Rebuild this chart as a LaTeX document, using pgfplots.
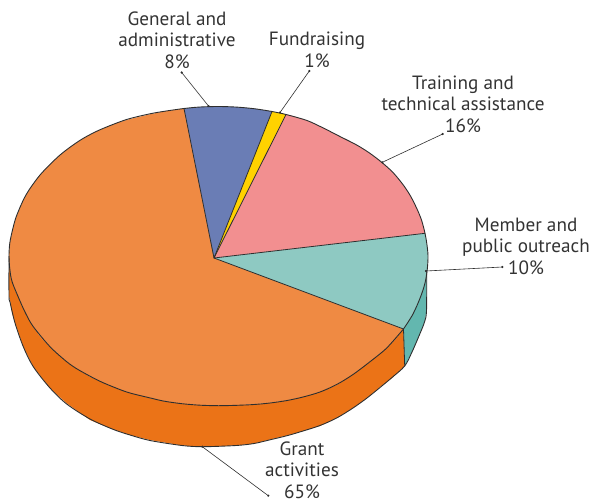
\documentclass[border=0pt]{standalone}
\usepackage{pgfplots}
\pgfplotsset{compat=1.18}
\usepackage{fontspec}
\setmainfont{PT Sans}
\definecolor{otop}{HTML}{EF8A43}
\definecolor{oside}{HTML}{EB7317}
\definecolor{blu}{HTML}{6A7DB5}
\definecolor{yel}{HTML}{FFD200}
\definecolor{pnk}{HTML}{F28F90}
\definecolor{tea}{HTML}{8EC9C2}
\definecolor{tside}{HTML}{63B7AF}
\definecolor{ink}{HTML}{2E2E2E}
\definecolor{txt}{HTML}{333333}
\tikzset{lbl/.style={font=\fontsize{19.2}{21.5}\selectfont,text=txt,align=center,inner sep=0pt},
  leader/.style={line width=0.6pt,mark=*,mark size=0.8pt,mark options={fill=ink,draw=ink}},
  rim/.style={line width=0.9pt,smooth,tension=0.5}}
\begin{document}
\begin{tikzpicture}
\path[use as bounding box] (0,0) rectangle (593pt,503pt);
\begin{axis}[
  at={(0,0)},anchor=south west,
  width=593pt,height=503pt,scale only axis,
  xmin=0,xmax=593,ymin=0,ymax=503,y dir=reverse,
  axis lines=none,clip=false,
  every axis plot/.append style={line width=0.8pt,draw=ink,mark=none,line join=round},
]
% side band: orange
\addplot[fill=oside,draw=none] coordinates {(9,256)(9,296)(10,300)(12,313)(15,323)(23.3,346.7)(33.3,366.7)(50,388.3)(66.7,403.3)(90,420)(113,429.3)(130,435)(150,440)(182,445.5)(203,446.7)(236,445.5)(254,443.5)(270,439.5)(287,435.5)(303,431)(320,426)(336.7,418)(353,408)(367,398)(380,387)(392,378)(404.7,366)(403.5,329)(396,338.5)(386.7,348)(370,361.7)(353,374.5)(336.7,385)(320,392)(303,397)(287,400.5)(270,402.7)(254,404.3)(236.8,405.2)(218.5,405.7)(200.2,405.2)(182,403.7)(164.3,401.2)(150,397.9)(130,393)(116.7,388.3)(98.3,380.5)(90,376.7)(78,369.5)(66.7,361.7)(50,346.7)(40,336.5)(33.3,326.7)(26,314)(20,300)(16.1,293)(12.2,282)(9.8,269)} --cycle;
% side band: teal
\addplot[fill=tside,draw=none] coordinates {(403.5,329)(404.7,366)(412,352)(420,333.5)(424.5,322)(426.5,311)(426.7,272)(425,283)(420.5,297)(413,314)} --cycle;
% top: orange
\addplot[fill=otop,draw=none] coordinates {(214,258)(403.5,329)(396,338.5)(386.7,348)(370,361.7)(353,374.5)(336.7,385)(320,392)(303,397)(287,400.5)(270,402.7)(254,404.3)(236.8,405.2)(218.5,405.7)(200.2,405.2)(182,403.7)(164.3,401.2)(150,397.9)(130,393)(116.7,388.3)(98.3,380.5)(90,376.7)(78,369.5)(66.7,361.7)(50,346.7)(40,336.5)(33.3,326.7)(26,314)(20,300)(16.1,293)(12.2,282)(9.8,269)(9,256)(9.8,243)(12.5,230)(16.1,217)(23.3,200)(30,188.5)(40,175)(50,164.5)(60,155)(71,146.5)(83.3,138.3)(98.3,130.5)(116.7,123)(130,119)(150,114.3)(164.3,111.3)(184,108.5)} --cycle;
% top: blue
\addplot[fill=blu,draw=none] coordinates {(214,258)(184,108.5)(200.2,107)(218.5,106.5)(236.8,107.1)(254.9,108.8)(272,111.5)} --cycle;
% top: yellow
\addplot[fill=yel,draw=none] coordinates {(214,258)(272,111.5)(286,114.5)} --cycle;
% top: pink
\addplot[fill=pnk,draw=none] coordinates {(214,258)(286,114.5)(290.2,115.2)(307,120.5)(323.3,128)(339,136)(356.7,145)(369.5,153)(381.7,162.3)(393,172.5)(403.3,185)(410.5,196)(416.7,208.3)(421.5,220)(425,233.3)} --cycle;
% top: teal
\addplot[fill=tea,draw=none] coordinates {(214,258)(425,233.3)(427,245)(428,256)(427.3,269)(425,283)(420.5,297)(413,314)(403.5,329)} --cycle;
% spokes
\addplot[draw=ink] coordinates {(184,108.5)(214,258)(272,111.5)};
\addplot[draw=ink] coordinates {(286,114.5)(214,258)(425,233.3)};
\addplot[draw=ink] coordinates {(214,258)(403.5,329)(404.7,366)};
% rims
\addplot[rim] coordinates {(403.5,329)(386.7,348)(370,361.7)(353,374.5)(336.7,384.5)(320,392)(303,397)(287,400.5)(270,403)(254,404.5)(236.8,405.3)(218.5,405.7)(200.2,405.2)(182,403.7)(164.3,401.2)(150,397.9)(130,393)(116.7,388.3)(98.3,380.5)(78,369.5)(66.7,361.7)(50,346.7)(33.3,326.7)(26,314)(20,301)(12.2,282)(9.8,269)(9,256)(9.8,243)(12.5,230)(16.1,217)(23.3,200)(30,188.5)(40,175)(50,164.5)(60,155)(71,146.5)(83.3,138.3)(98.3,130.5)(116.7,123)(130,118.5)(150,113.8)(164.3,111.3)(184,108.5)(200.2,107)(218.5,106.5)(236.8,107.1)(254.9,108.8)(272,111.5)(286,114.5)(307,120.5)(323.3,128)(339,136)(356.7,145)(369.5,153)(381.7,162.3)(393,172.5)(403.3,185)(410.5,196)(416.7,208.3)(421.5,220)(425,233.3)(427,245)(428,256)(427.3,269)(425,283)(420.5,297)(413,314)(403.5,329)};
\addplot[rim] coordinates {(9,256)(9,296)(10,302)(15,323)(23.3,346.7)(33.3,366.7)(50,388)(66.7,404)(90,419)(113,429.3)(130,435)(150,440.5)(182,445.5)(203,446.7)(236,445.5)(254,443.5)(270,439.8)(287,435.7)(303,431)(320,425.5)(336.7,418)(353,408)(367,398)(380,387.5)(392,377.5)(404.7,366)(412,352)(420,333.5)(424.5,322)(426.5,311)(426.7,272)};
% leaders
\addplot[leader] coordinates {(208.5,106)(181.7,72.5)};
\addplot[leader] coordinates {(280,112.5)(309.3,71)};
\addplot[leader] coordinates {(382.3,162.3)(442.7,134)};
\addplot[leader] coordinates {(426,271)(502.3,267)};
\addplot[leader] coordinates {(202.3,446.7)(268.3,495.7)};
\node[lbl] at (axis cs:177,40) {General and\\administrative\\8\%};
\node[lbl] at (axis cs:317,50) {Fundraising\\1\%};
\node[lbl] at (axis cs:463,104) {Training and\\technical assistance\\16\%};
\node[lbl] at (axis cs:526,246) {Member and\\public outreach\\10\%};
\node[lbl] at (axis cs:302,470) {Grant\\activities\\65\%};
\end{axis}
\end{tikzpicture}
\end{document}
